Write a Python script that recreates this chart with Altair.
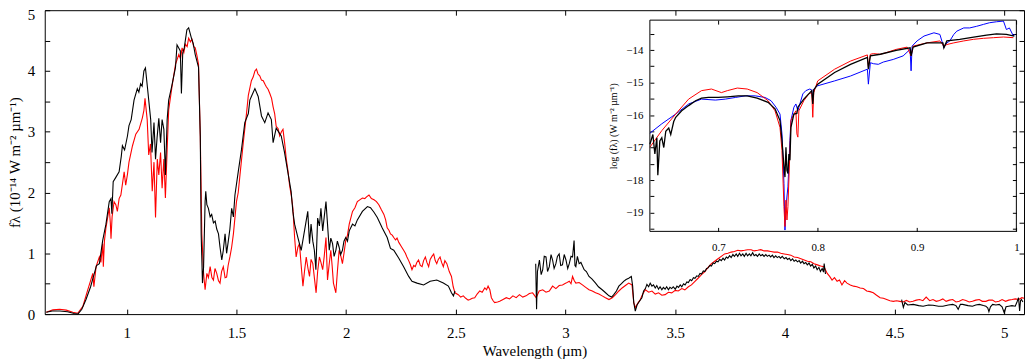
import altair as alt
import pandas as pd

# ---------------- main panel: observed spectrum (black), in three pieces ----------------
obs1_x = [0.633, 0.66, 0.695, 0.73, 0.76, 0.777, 0.795, 0.814, 0.835, 0.852, 0.862, 0.875, 0.89, 0.905, 0.92,
          0.928, 0.932, 0.938, 0.95, 0.965, 0.975, 0.98, 0.99, 1.003, 1.01, 1.02, 1.033, 1.048, 1.055, 1.063,
          1.07, 1.078, 1.085, 1.095, 1.109, 1.115, 1.124, 1.131, 1.138, 1.146, 1.154, 1.161, 1.169, 1.176,
          1.184, 1.191, 1.205, 1.222, 1.229, 1.244, 1.249, 1.255, 1.262, 1.274, 1.282, 1.294, 1.303, 1.312,
          1.327, 1.335, 1.339, 1.345, 1.35, 1.357, 1.36, 1.365, 1.372, 1.38, 1.387, 1.395, 1.403, 1.41, 1.418,
          1.425, 1.433, 1.44, 1.448, 1.455, 1.463, 1.47, 1.478, 1.486, 1.493, 1.508, 1.523, 1.538, 1.554,
          1.561, 1.568, 1.584, 1.599, 1.614, 1.629, 1.644, 1.659, 1.667, 1.681, 1.704, 1.719, 1.734, 1.749,
          1.757, 1.765, 1.78, 1.795, 1.81, 1.825, 1.833, 1.84, 1.848, 1.855, 1.862, 1.87, 1.878, 1.885, 1.893,
          1.9, 1.908, 1.915, 1.923, 1.93, 1.938, 1.945, 1.953, 1.96, 1.968, 1.975, 1.983, 1.99, 1.998, 2.006,
          2.014, 2.029, 2.04, 2.051, 2.074, 2.097, 2.111, 2.126, 2.142, 2.164, 2.187, 2.202, 2.217, 2.24,
          2.262, 2.285, 2.30, 2.323, 2.353, 2.383, 2.413, 2.443, 2.466, 2.48, 2.489, 2.496]
obs1_y = [0.03, 0.05, 0.05, 0.04, 0.01, 0.0, 0.08, 0.24, 0.45, 0.67, 0.8, 0.83, 1.21, 1.48, 1.85,
          1.9, 1.65, 2.18, 2.25, 2.34, 2.6, 2.77, 2.7, 2.93, 3.1, 3.2, 3.52, 3.71, 3.65, 3.79,
          3.75, 4.0, 4.05, 3.7, 3.2, 2.66, 3.15, 2.55, 2.9, 3.22, 2.82, 3.2, 3.04, 2.29,
          3.2, 3.52, 3.75, 4.06, 4.43, 4.33, 3.63, 4.3, 4.38, 4.68, 4.71, 4.55, 4.45, 4.27,
          4.06, 2.93, 1.32, 0.51, 0.77, 1.85, 2.02, 1.8, 1.74, 1.6, 1.64, 1.5, 1.53, 1.4, 1.32,
          1.1, 0.89, 1.05, 1.32, 1.0, 1.21, 1.4, 1.74, 1.6, 1.96, 2.34, 2.71, 3.15, 3.3,
          3.52, 3.58, 3.71, 3.58, 3.26, 3.15, 3.31, 3.2, 2.82, 3.06, 2.93, 2.66, 2.34, 2.02,
          1.69, 1.48, 1.26, 1.05, 1.37, 1.69, 1.16, 1.48, 1.2, 1.05, 0.73, 1.58, 1.45, 1.74, 1.37,
          1.6, 1.85, 1.48, 1.05, 1.25, 1.16, 0.95, 1.05, 1.2, 1.1, 0.98, 1.05, 1.2, 1.26, 1.2,
          1.37, 1.48, 1.45, 1.55, 1.69, 1.77, 1.75, 1.68, 1.59, 1.42, 1.26, 1.08, 1.05, 0.92,
          0.78, 0.62, 0.54, 0.51, 0.48, 0.54, 0.56, 0.51, 0.46, 0.35, 0.30, 0.38]

obs2_x = [2.864, 2.868, 2.872, 2.881, 2.889, 2.896, 2.903, 2.911, 2.918, 2.926, 2.934, 2.941, 2.948, 2.956,
          2.963, 2.971, 2.978, 2.986, 2.994, 3.002, 3.01, 3.017, 3.025, 3.032, 3.039, 3.043, 3.047, 3.054,
          3.062, 3.07, 3.085, 3.095, 3.107, 3.12, 3.137, 3.15, 3.167, 3.18, 3.198, 3.21, 3.22, 3.232, 3.243,
          3.255, 3.265, 3.276, 3.288, 3.30, 3.306, 3.311, 3.318, 3.326, 3.333, 3.348, 3.356, 3.364, 3.371,
          3.379, 3.386, 3.394, 3.401, 3.409, 3.416, 3.424, 3.431, 3.439, 3.446, 3.454, 3.461, 3.469, 3.476,
          3.484, 3.491, 3.50, 3.508, 3.515, 3.523, 3.53, 3.538, 3.545, 3.553, 3.56, 3.568, 3.575, 3.583,
          3.59, 3.598, 3.605, 3.613, 3.62, 3.628, 3.635, 3.643, 3.65, 3.658, 3.665, 3.673, 3.68, 3.688,
          3.695, 3.703, 3.71, 3.718, 3.725, 3.733, 3.74, 3.748, 3.755, 3.763, 3.77, 3.778, 3.785, 3.793,
          3.80, 3.808, 3.815, 3.823, 3.83, 3.838, 3.845, 3.853, 3.86, 3.868, 3.875, 3.883, 3.89, 3.898,
          3.905, 3.913, 3.92, 3.928, 3.935, 3.943, 3.95, 3.958, 3.965, 3.973, 3.98, 3.988, 3.997, 4.005,
          4.012, 4.02, 4.027, 4.035, 4.042, 4.05, 4.057, 4.065, 4.072, 4.08, 4.087, 4.095, 4.102, 4.11,
          4.117, 4.125, 4.132, 4.14, 4.147, 4.155, 4.162, 4.17, 4.176, 4.179, 4.185]
obs2_y = [0.83, 0.08, 0.7, 0.89, 0.65, 0.73, 0.95, 0.94, 0.7, 0.78, 0.98, 0.89, 0.75, 0.83,
          0.95, 0.99, 0.8, 0.81, 0.98, 0.89, 0.75, 0.83, 0.95, 0.94, 1.21, 0.8, 0.78, 0.95,
          0.83, 0.85, 0.73, 0.7, 0.62, 0.58, 0.51, 0.45, 0.40, 0.36, 0.30, 0.28, 0.32, 0.38, 0.46,
          0.5, 0.54, 0.57, 0.59, 0.62, 0.46, 0.19, 0.05, 0.15, 0.19, 0.27, 0.38, 0.42, 0.49,
          0.45, 0.51, 0.46, 0.48, 0.43, 0.47, 0.41, 0.45, 0.40, 0.44, 0.41, 0.45, 0.40, 0.44,
          0.42, 0.45, 0.41, 0.46, 0.44, 0.48, 0.45, 0.50, 0.48, 0.53, 0.52, 0.57, 0.55, 0.60,
          0.59, 0.63, 0.62, 0.67, 0.66, 0.71, 0.70, 0.75, 0.76, 0.80, 0.79, 0.84, 0.83, 0.87,
          0.86, 0.90, 0.88, 0.92, 0.89, 0.94, 0.92, 0.96, 0.93, 0.98, 0.95, 0.99, 0.95, 1.0,
          0.96, 0.99, 0.95, 1.0, 0.96, 0.99, 0.96, 1.01, 0.96, 0.98, 0.95, 0.99, 0.96, 0.98,
          0.95, 0.98, 0.95, 0.97, 0.94, 0.97, 0.93, 0.96, 0.93, 0.95, 0.92, 0.95, 0.91, 0.93,
          0.90, 0.92, 0.88, 0.91, 0.87, 0.89, 0.86, 0.88, 0.84, 0.87, 0.83, 0.85, 0.81, 0.84,
          0.79, 0.82, 0.76, 0.79, 0.73, 0.77, 0.70, 0.75, 0.69, 0.83, 0.66]

obs3_x = [4.532, 4.54, 4.547, 4.56, 4.585, 4.61, 4.63, 4.655, 4.675, 4.70, 4.72, 4.745, 4.765, 4.78, 4.79,
          4.80, 4.81, 4.835, 4.855, 4.87, 4.886, 4.905, 4.916, 4.925, 4.93, 4.937, 4.947, 4.962, 4.977,
          4.99, 5.0, 5.008, 5.02, 5.035, 5.05, 5.058, 5.065, 5.07, 5.074, 5.078, 5.085]
obs3_y = [0.24, 0.11, 0.19, 0.15, 0.16, 0.14, 0.13, 0.15, 0.145, 0.13, 0.13, 0.15, 0.16, 0.14, 0.08,
          0.16, 0.16, 0.14, 0.13, 0.15, 0.16, 0.14, 0.13, 0.1, 0.04, 0.12, 0.16, 0.15, 0.16,
          0.12, 0.02, 0.12, 0.13, 0.14, 0.13, 0.2, 0.27, 0.05, 0.22, 0.24, 0.2]

# ---------------- main panel: model spectrum (red) ----------------
mod_x = [0.633, 0.663, 0.694, 0.724, 0.754, 0.777, 0.80, 0.822, 0.835, 0.845, 0.85, 0.86, 0.875, 0.882, 0.89,
         0.893, 0.898, 0.905, 0.92, 0.925, 0.928, 0.933, 0.942, 0.95, 0.957, 0.965, 0.973, 0.988, 0.995,
         1.003, 1.01, 1.026, 1.041, 1.056, 1.071, 1.078, 1.083, 1.093, 1.10, 1.108, 1.116, 1.124, 1.131,
         1.139, 1.146, 1.154, 1.161, 1.169, 1.176, 1.184, 1.191, 1.206, 1.222, 1.237, 1.245, 1.252, 1.26,
         1.267, 1.275, 1.282, 1.29, 1.297, 1.305, 1.312, 1.32, 1.327, 1.335, 1.342, 1.35, 1.357, 1.365,
         1.372, 1.38, 1.388, 1.395, 1.402, 1.41, 1.418, 1.425, 1.432, 1.44, 1.448, 1.455, 1.462, 1.47,
         1.478, 1.486, 1.50, 1.508, 1.516, 1.531, 1.546, 1.554, 1.568, 1.576, 1.584, 1.591, 1.598, 1.606,
         1.614, 1.622, 1.63, 1.636, 1.644, 1.652, 1.66, 1.667, 1.674, 1.681, 1.69, 1.697, 1.705, 1.712,
         1.72, 1.727, 1.735, 1.742, 1.75, 1.757, 1.765, 1.772, 1.78, 1.787, 1.795, 1.803, 1.81, 1.818,
         1.826, 1.833, 1.84, 1.848, 1.855, 1.863, 1.87, 1.878, 1.885, 1.893, 1.9, 1.908, 1.915, 1.922,
         1.93, 1.936, 1.942, 1.953, 1.96, 1.968, 1.976, 1.983, 1.99, 1.998, 2.006, 2.014, 2.029, 2.04,
         2.051, 2.062, 2.074, 2.085, 2.093, 2.104, 2.115, 2.127, 2.138, 2.149, 2.16, 2.172, 2.18, 2.187,
         2.195, 2.202, 2.21, 2.217, 2.225, 2.232, 2.24, 2.25, 2.262, 2.27, 2.277, 2.285, 2.292, 2.30,
         2.308, 2.315, 2.322, 2.33, 2.338, 2.346, 2.353, 2.361, 2.368, 2.376, 2.383, 2.391, 2.399, 2.406,
         2.413, 2.42, 2.428, 2.435, 2.443, 2.45, 2.459, 2.47, 2.48, 2.488, 2.496, 2.511, 2.522, 2.534,
         2.545, 2.556, 2.564, 2.575, 2.586, 2.597, 2.609, 2.62, 2.632, 2.64, 2.647, 2.655, 2.662, 2.67,
         2.677, 2.69, 2.70, 2.715, 2.73, 2.745, 2.76, 2.775, 2.79, 2.805, 2.82, 2.835, 2.85, 2.866, 2.88,
         2.896, 2.911, 2.926, 2.941, 2.956, 2.971, 2.986, 3.002, 3.017, 3.025, 3.032, 3.04, 3.047, 3.062,
         3.077, 3.092, 3.107, 3.122, 3.137, 3.152, 3.167, 3.182, 3.198, 3.213, 3.228, 3.243, 3.258, 3.273,
         3.288, 3.303, 3.311, 3.318, 3.33, 3.341, 3.352, 3.364, 3.379, 3.394, 3.409, 3.424, 3.439, 3.454,
         3.469, 3.484, 3.50, 3.514, 3.53, 3.544, 3.56, 3.574, 3.59, 3.604, 3.62, 3.635, 3.65, 3.665, 3.68,
         3.695, 3.71, 3.725, 3.74, 3.755, 3.77, 3.785, 3.80, 3.816, 3.83, 3.846, 3.86, 3.876, 3.89, 3.905,
         3.921, 3.936, 3.951, 3.966, 3.981, 3.997, 4.012, 4.027, 4.042, 4.058, 4.073, 4.088, 4.103, 4.118,
         4.133, 4.148, 4.163, 4.178, 4.193, 4.204, 4.215, 4.226, 4.238, 4.249, 4.26, 4.272, 4.283, 4.298,
         4.313, 4.328, 4.343, 4.358, 4.373, 4.388, 4.403, 4.418, 4.434, 4.449, 4.464, 4.479, 4.494, 4.509,
         4.524, 4.539, 4.554, 4.569, 4.584, 4.599, 4.614, 4.629, 4.644, 4.66, 4.675, 4.69, 4.705, 4.72,
         4.735, 4.75, 4.765, 4.78, 4.795, 4.81, 4.825, 4.84, 4.855, 4.87, 4.886, 4.9, 4.916, 4.93, 4.946,
         4.96, 4.976, 4.99, 5.006, 5.02, 5.036, 5.05, 5.066, 5.08, 5.09]
mod_y = [0.03, 0.07, 0.08, 0.065, 0.03, 0.015, 0.13, 0.40, 0.55, 0.67, 0.45, 0.78, 0.94, 0.85, 1.16,
         0.78, 1.2, 1.42, 1.75, 1.5, 1.24, 1.6, 1.85, 1.8, 1.69, 1.9, 1.96, 2.34, 2.12,
         2.3, 2.5, 2.77, 2.96, 3.04, 3.23, 3.35, 3.55, 3.2, 2.62, 2.8, 2.02, 2.5, 1.59,
         2.55, 2.29, 2.66, 2.07, 2.55, 1.91, 2.71, 3.36, 3.74, 4.11, 4.27, 4.2, 4.38, 4.3,
         4.44, 4.4, 4.54, 4.48, 4.52, 4.4, 4.38, 4.25, 4.11, 2.93, 1.32, 0.67, 0.40, 0.67,
         0.6, 0.78, 0.6, 0.56, 0.75, 0.67, 0.55, 0.51, 0.7, 0.78, 0.6, 0.61, 0.8, 0.94,
         1.1, 1.32, 1.85, 2.0, 2.29, 2.82, 3.31, 3.6, 3.84, 3.9, 4.0, 4.03, 3.95, 3.92,
         3.85, 3.84, 3.78, 3.74, 3.7, 3.63, 3.55, 3.41, 3.3, 3.09, 3.05, 2.93, 3.0, 3.04,
         2.8, 2.55, 2.35, 2.12, 1.95, 1.75, 1.26, 0.94, 1.1, 1.16, 0.8, 0.46, 0.7, 0.94,
         0.75, 0.62, 0.9, 0.83, 0.6, 0.35, 0.7, 0.94, 0.85, 0.73, 0.95, 1.26, 0.56, 0.8,
         1.05, 0.8, 0.51, 0.35, 0.7, 1.05, 0.95, 0.83, 1.0, 1.21, 1.3, 1.48, 1.69, 1.75,
         1.85, 1.88, 1.91, 1.9, 1.93, 1.96, 1.9, 1.88, 1.85, 1.80, 1.72, 1.64, 1.55, 1.42,
         1.38, 1.32, 1.3, 1.26, 1.22, 1.25, 1.18, 1.12, 1.05, 1.0, 0.94, 0.88, 0.82, 0.73,
         0.8, 0.78, 0.85, 0.89, 0.8, 0.78, 0.88, 0.94, 0.85, 0.78, 0.9, 0.95, 0.99, 0.88,
         0.83, 0.9, 0.94, 0.85, 0.78, 0.88, 0.83, 0.7, 0.62, 0.45, 0.35, 0.32, 0.28, 0.30,
         0.26, 0.23, 0.24, 0.26, 0.27, 0.33, 0.38, 0.36, 0.43, 0.4, 0.46, 0.4, 0.27, 0.22,
         0.19, 0.2, 0.21, 0.24, 0.27, 0.25, 0.30, 0.27, 0.32, 0.28, 0.30, 0.34, 0.35, 0.27, 0.38,
         0.40, 0.36, 0.38, 0.46, 0.42, 0.47, 0.48, 0.51, 0.54, 0.5, 0.62, 0.55, 0.51, 0.52,
         0.48, 0.44, 0.40, 0.38, 0.35, 0.33, 0.30, 0.27, 0.24, 0.27, 0.32, 0.38, 0.43, 0.47,
         0.51, 0.48, 0.19, 0.11, 0.18, 0.24, 0.33, 0.40, 0.36, 0.38, 0.33, 0.35, 0.31, 0.32,
         0.36, 0.35, 0.39, 0.38, 0.42, 0.40, 0.45, 0.48, 0.54, 0.59, 0.65, 0.70, 0.77, 0.83, 0.87,
         0.91, 0.95, 0.99, 1.0, 1.02, 1.03, 1.05, 1.04, 1.05, 1.06, 1.06, 1.04, 1.05, 1.06, 1.04,
         1.04, 1.03, 1.02, 1.02, 1.0, 0.99, 0.98, 0.97, 0.94, 0.93, 0.91, 0.89, 0.87, 0.86,
         0.83, 0.81, 0.79, 0.78, 0.67, 0.62, 0.56, 0.6, 0.54, 0.56, 0.48, 0.55, 0.51, 0.48,
         0.46, 0.45, 0.43, 0.42, 0.38, 0.37, 0.35, 0.31, 0.27, 0.26, 0.24, 0.22, 0.21, 0.22,
         0.21, 0.2, 0.225, 0.2, 0.21, 0.23, 0.24, 0.22, 0.28, 0.22, 0.24, 0.21, 0.225, 0.25,
         0.21, 0.23, 0.24, 0.2, 0.21, 0.24, 0.225, 0.2, 0.21, 0.23, 0.24, 0.21, 0.21, 0.23, 0.23,
         0.2, 0.21, 0.24, 0.21, 0.23, 0.24, 0.25, 0.24, 0.27, 0.26]

# ---------------- inset: log(f_lambda), 0.63-1.0 um ----------------
ins_blue_x = [0.631, 0.643, 0.657, 0.67, 0.683, 0.697, 0.707, 0.717, 0.727, 0.737, 0.747, 0.753, 0.758, 0.762,
              0.764, 0.766, 0.767, 0.768, 0.77, 0.772, 0.773, 0.776, 0.778, 0.78, 0.782, 0.785, 0.788, 0.792,
              0.794, 0.795, 0.796, 0.80, 0.817, 0.833, 0.85, 0.851, 0.853, 0.856, 0.861, 0.866, 0.876, 0.886,
              0.893, 0.894, 0.895, 0.90, 0.907, 0.917, 0.923, 0.927, 0.93, 0.933, 0.937, 0.94, 0.947, 0.953,
              0.96, 0.967, 0.973, 0.98, 0.987, 0.99, 0.993, 0.997, 0.998]
ins_blue_y = [-16.56, -16.27, -15.97, -15.66, -15.51, -15.54, -15.51, -15.46, -15.41, -15.41, -15.46, -15.56,
              -15.76, -15.97, -16.58, -18.11, -19.54, -18.82, -18.21, -16.78, -16.17, -15.76, -15.66, -15.87,
              -15.66, -15.35, -15.25, -15.2, -15.23, -15.56, -15.2, -15.1, -14.95, -14.8, -14.59, -15.05,
              -14.39, -14.42, -14.44, -14.37, -14.29, -14.18, -13.98, -14.64, -13.88, -13.72, -13.57, -13.47,
              -13.52, -13.93, -13.78, -13.72, -13.52, -13.42, -13.32, -13.32, -13.27, -13.21, -13.16, -13.13,
              -13.11, -13.37, -13.32, -13.57, -13.52]

ins_red_x = [0.631, 0.643, 0.657, 0.67, 0.683, 0.693, 0.703, 0.709, 0.719, 0.729, 0.739, 0.75, 0.757, 0.762,
             0.764, 0.766, 0.767, 0.768, 0.769, 0.77, 0.772, 0.773, 0.776, 0.778, 0.779, 0.78, 0.781, 0.786,
             0.791, 0.794, 0.795, 0.796, 0.80, 0.817, 0.833, 0.85, 0.851, 0.853, 0.856, 0.863, 0.869, 0.879,
             0.89, 0.894, 0.896, 0.91, 0.923, 0.927, 0.93, 0.937, 0.947, 0.957, 0.967, 0.977, 0.987, 0.997]
ins_red_y = [-16.99, -16.48, -15.97, -15.51, -15.25, -15.2, -15.31, -15.25, -15.17, -15.2, -15.31, -15.56,
             -15.87, -16.38, -17.09, -18.82, -19.43, -18.62, -19.23, -18.82, -17.09, -16.17, -15.97, -15.87,
             -16.58, -16.68, -15.87, -15.56, -15.35, -15.31, -16.07, -15.31, -14.95, -14.59, -14.34, -14.15,
             -14.54, -14.13, -14.11, -14.13, -14.08, -13.98, -13.91, -14.18, -13.88, -13.78, -13.72, -13.88,
             -13.83, -13.78, -13.72, -13.67, -13.64, -13.62, -13.6, -13.62]

ins_obs_x = [0.631, 0.634, 0.636, 0.638, 0.639, 0.641, 0.643, 0.645, 0.647, 0.65, 0.652, 0.655, 0.657, 0.663,
             0.67, 0.677, 0.683, 0.69, 0.70, 0.709, 0.72, 0.729, 0.739, 0.75, 0.757, 0.762, 0.764, 0.766,
             0.767, 0.768, 0.769, 0.77, 0.771, 0.772, 0.773, 0.776, 0.779, 0.78, 0.786, 0.794, 0.795, 0.796,
             0.80, 0.817, 0.833, 0.85, 0.851, 0.853, 0.863, 0.879, 0.893, 0.894, 0.896, 0.91, 0.926, 0.927,
             0.93, 0.943, 0.957, 0.97, 0.98, 0.99, 0.998]
ins_obs_y = [-16.9, -16.6, -17.2, -16.7, -17.85, -16.8, -16.7, -17.0, -16.5, -16.4, -16.6, -16.2, -16.07,
             -15.87, -15.71, -15.56, -15.48, -15.46, -15.46, -15.44, -15.41, -15.41, -15.48, -15.61, -15.81,
             -16.17, -16.78, -17.6, -17.91, -16.99, -17.7, -17.8, -17.2, -17.39, -16.38, -15.97, -15.95,
             -15.76, -15.51, -15.25, -15.66, -15.23, -15.05, -14.69, -14.44, -14.23, -14.59, -14.18, -14.13,
             -14.01, -13.93, -14.18, -13.91, -13.78, -13.78, -13.93, -13.72, -13.67, -13.6, -13.54, -13.5,
             -13.52, -13.57]

# axis ranges / ticks
main_x_domain = [0.626, 5.09]
main_y_domain = [0, 5]
main_x_ticks = [1, 1.5, 2, 2.5, 3, 3.5, 4, 4.5, 5]
main_y_ticks = [0, 0.5, 1, 1.5, 2, 2.5, 3, 3.5, 4, 4.5, 5]
ins_x_domain = [0.631, 1.0]
ins_y_domain = [-19.58, -13.08]
ins_x_ticks = [0.7, 0.8, 0.9, 1.0]
ins_y_ticks = [-19.5, -19, -18.5, -18, -17.5, -17, -16.5, -16, -15.5, -15, -14.5, -14, -13.5]
ins_box_x = [0.631]
ins_box_x2 = [1.0]
ins_box_y = [-19.58]
ins_box_y2 = [-13.08]

W, H = 986, 306
INS_X_RANGE = [609.3, 978.3]
INS_Y_RANGE = [222.7, 10]

obs_df = pd.concat([
    pd.DataFrame({"x": obs1_x, "y": obs1_y, "seg": "a"}),
    pd.DataFrame({"x": obs2_x, "y": obs2_y, "seg": "b"}),
    pd.DataFrame({"x": obs3_x, "y": obs3_y, "seg": "c"}),
])
mod_df = pd.DataFrame({"x": mod_x, "y": mod_y})
blue_df = pd.DataFrame({"x": ins_blue_x, "y": ins_blue_y})
ired_df = pd.DataFrame({"x": ins_red_x, "y": ins_red_y})
iobs_df = pd.DataFrame({"x": ins_obs_x, "y": ins_obs_y})
box_df = pd.DataFrame({"x": ins_box_x, "x2": ins_box_x2, "y": ins_box_y, "y2": ins_box_y2})

mx = alt.Scale(domain=main_x_domain, nice=False, zero=False)
my = alt.Scale(domain=main_y_domain, nice=False, zero=False)
ix = alt.Scale(domain=ins_x_domain, range=INS_X_RANGE, nice=False, zero=False)
iy = alt.Scale(domain=ins_y_domain, range=INS_Y_RANGE, nice=False, zero=False)

y_lab_expr = "datum.value % 1 == 0 ? '' + datum.value : ''"
iy_lab_expr = "datum.value % 1 == 0 ? replace('' + datum.value, '-', '\u2212') : ''"

common = dict(grid=False, domain=False, tickColor="black", tickWidth=1, labelColor="black",
              titleColor="black", titleFontWeight="normal", labelFlush=False)

# main model (red) -> carries top & right inward ticks
red_main = alt.Chart(mod_df).mark_line(color="#ff0000", strokeWidth=1.1).encode(
    x=alt.X("x:Q", scale=mx, axis=alt.Axis(orient="top", offset=-5, tickSize=5, values=main_x_ticks,
                                             labels=False, title=None, **common)),
    y=alt.Y("y:Q", scale=my, axis=alt.Axis(orient="right", offset=-5, tickSize=5, values=main_y_ticks,
                                             labels=False, title=None, **common)),
)

# main observed (black) -> bottom & left axes with labels
black_main = alt.Chart(obs_df).mark_line(color="#000000", strokeWidth=1.1).encode(
    x=alt.X("x:Q", scale=mx, axis=alt.Axis(orient="bottom", offset=-5, tickSize=5, values=main_x_ticks,
                                             labelExpr="'' + datum.value", labelFontSize=15, labelPadding=12,
                                             labelAlign="center",
                                             title="Wavelength (\u00b5m)", titleFontSize=15, titlePadding=3,
                                             **common)),
    y=alt.Y("y:Q", scale=my, axis=alt.Axis(orient="left", offset=-5, tickSize=5, values=main_y_ticks,
                                             labelExpr=y_lab_expr, labelFontSize=15, labelPadding=10,
                                             labelOffset={"condition": {"test": "datum.value == 5", "value": 4},
                                                          "value": 0},
                                             title="f\u03bb (10\u207b\u00b9\u2074 W m\u207b\u00b2 \u00b5m\u207b\u00b9)",
                                             titleFontSize=15, titlePadding=5, **common)),
    detail="seg:N",
)

# inset blue -> inset bottom & left axes with labels
blue_ins = alt.Chart(blue_df).mark_line(color="#0000ff", strokeWidth=1).encode(
    x=alt.X("x:Q", scale=ix, axis=alt.Axis(orient="bottom", offset=-87.3, tickSize=4, values=ins_x_ticks,
                                             labelExpr="'' + datum.value", labelFontSize=11, labelPadding=10,
                                             labelAlign="center", labelBound=False,
                                             title=None, **common)),
    y=alt.Y("y:Q", scale=iy, axis=alt.Axis(orient="left", offset=-613.3, tickSize=4, values=ins_y_ticks,
                                             labelExpr=iy_lab_expr, labelFontSize=11, labelPadding=7,
                                             title="log (f\u03bb) (W m\u207b\u00b2 \u00b5m\u207b\u00b9)",
                                             titleFontSize=10, titlePadding=7, **common)),
)

# inset red -> inset top & right ticks
red_ins = alt.Chart(ired_df).mark_line(color="#ff0000", strokeWidth=1).encode(
    x=alt.X("x:Q", scale=ix, axis=alt.Axis(orient="top", offset=-14, tickSize=4, values=ins_x_ticks,
                                             labels=False, title=None, **common)),
    y=alt.Y("y:Q", scale=iy, axis=alt.Axis(orient="right", offset=-11.7, tickSize=4, values=ins_y_ticks,
                                             labels=False, title=None, **common)),
)

black_ins = alt.Chart(iobs_df).mark_line(color="#000000", strokeWidth=1.3).encode(
    x=alt.X("x:Q", scale=ix, axis=None),
    y=alt.Y("y:Q", scale=iy, axis=None),
)

box_ins = alt.Chart(box_df).mark_rect(fillOpacity=0, stroke="black", strokeWidth=1).encode(
    x=alt.X("x:Q", scale=ix, axis=None),
    x2="x2:Q",
    y=alt.Y("y:Q", scale=iy, axis=None),
    y2="y2:Q",
)

chart = alt.layer(
    red_main, black_main, blue_ins, red_ins, black_ins, box_ins
).resolve_scale(
    x="independent", y="independent"
).properties(
    width=W, height=H,
    autosize=alt.AutoSizeParams(type="none"),
    padding={"left": 37, "top": 1, "right": 2, "bottom": 45},
).configure(
    font="Liberation Serif",
).configure_view(
    stroke="black", strokeWidth=1,
)

chart.save("out.html", embed_options={"renderer": "svg", "actions": False})
